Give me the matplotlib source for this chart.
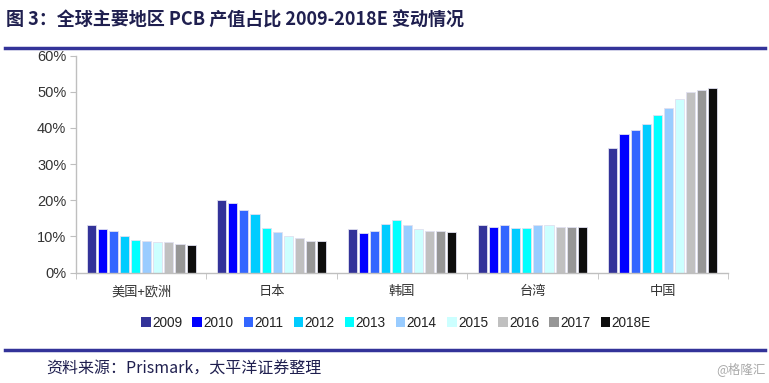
import numpy as np
import matplotlib
matplotlib.use("Agg")
import matplotlib.pyplot as plt

plt.rcParams['font.family'] = ['Liberation Sans', 'Noto Sans CJK SC', 'DejaVu Sans']

regions = ['美国+欧洲', '日本', '韩国', '台湾', '中国']
years = ['2009', '2010', '2011', '2012', '2013', '2014', '2015', '2016', '2017', '2018E']
colors = ['#333399', '#0000FF', '#3366FF', '#00CCFF', '#00FFFF',
          '#99CCFF', '#CCFFFF', '#C0C0C0', '#969696', '#0D0D0D']

# share (%) by region, one list per year
v2009 = [13.2, 20.0, 12.0, 13.0, 34.4]
v2010 = [12.0, 19.3, 11.0, 12.5, 38.3]
v2011 = [11.4, 17.3, 11.6, 13.2, 39.5]
v2012 = [10.0, 16.2, 13.3, 12.2, 41.1]
v2013 = [9.1, 12.3, 14.4, 12.4, 43.6]
v2014 = [8.8, 11.2, 13.2, 13.2, 45.4]
v2015 = [8.4, 10.2, 11.9, 13.0, 48.1]
v2016 = [8.5, 9.6, 11.4, 12.7, 49.8]
v2017 = [7.9, 8.8, 11.5, 12.7, 50.4]
v2018 = [7.5, 8.6, 11.3, 12.7, 51.0]
series = [v2009, v2010, v2011, v2012, v2013, v2014, v2015, v2016, v2017, v2018]

fig = plt.figure(figsize=(7.69, 3.83), dpi=100)
ax = fig.add_axes([0.0988, 0.2885, 0.8479, 0.5665])

x = np.arange(len(regions))
slot = 0.085
for i, (vals, c, yr) in enumerate(zip(series, colors, years)):
    ax.bar(x + (i - 4.5) * slot, vals, width=slot * 0.82, color=c,
           edgecolor='#E0E0F0', linewidth=0.6, label=yr, zorder=2)

ax.set_xlim(-0.5, len(regions) - 0.5)
ax.set_ylim(0, 60)
ax.set_yticks(range(0, 61, 10))
ax.set_yticklabels([f'{t}%' for t in range(0, 61, 10)], fontsize=10.5, color='#333333')
ax.set_xticks(x)
ax.set_xticklabels(regions, fontsize=9.5, color='#333333', family=['Noto Sans CJK SC'])
ax.set_xticks(np.arange(-0.5, len(regions) + 0.5, 1), minor=True)
ax.tick_params(axis='x', which='major', length=0, pad=9)
ax.tick_params(axis='x', which='minor', length=4, color='#BFBFBF')
ax.tick_params(axis='y', length=4, color='#BFBFBF', pad=3)
for s in ['top', 'right']:
    ax.spines[s].set_visible(False)
for s in ['left', 'bottom']:
    ax.spines[s].set_color('#BFBFBF')
    ax.spines[s].set_linewidth(1.0)

leg = fig.legend(loc='center', bbox_to_anchor=(0.515, 0.157), ncol=10, frameon=False,
                 fontsize=9.8, handlelength=0.7, handleheight=0.7,
                 handletextpad=0.1, columnspacing=0.75)
for h in leg.legend_handles:
    h.set_edgecolor('none')
for t in leg.get_texts():
    t.set_color('#222222')

fig.text(0.008, 0.948, '图 3：全球主要地区 PCB 产值占比 2009-2018E 变动情况', fontsize=13,
         fontweight='bold', color='#1F1F4F', va='center', family=['Noto Sans CJK SC'])
fig.add_artist(plt.Line2D([0.007, 0.995], [0.874, 0.874], color='#333399', linewidth=2.5))
fig.add_artist(plt.Line2D([0.007, 0.995], [0.086, 0.086], color='#333399', linewidth=2.5))
fig.text(0.06, 0.036, '资料来源：Prismark，太平洋证券整理', fontsize=11.5, color='#1F1F4F',
         va='center', family=['Noto Sans CJK SC'])
fig.text(0.995, 0.036, '@格隆汇', fontsize=9, color='#AAAAAA', ha='right', va='center',
         family=['Noto Sans CJK SC'])

fig.savefig('out.png', dpi=100)
